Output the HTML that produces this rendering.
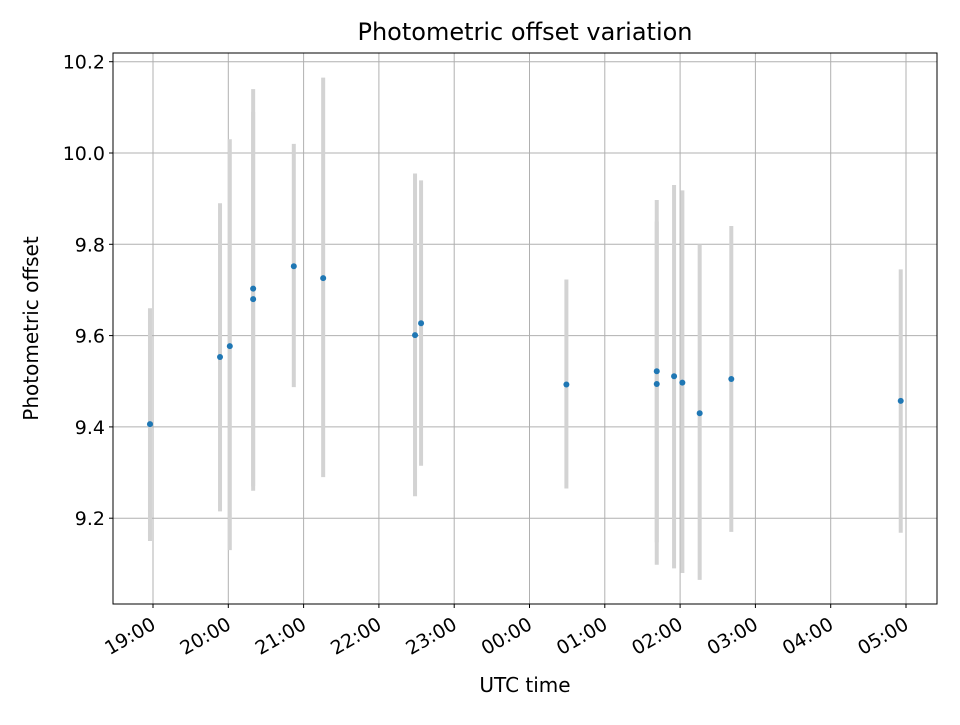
<!DOCTYPE html>
<html><head><meta charset="utf-8"><style>
body{margin:0;background:#fff;font-family:"Liberation Sans","DejaVu Sans",sans-serif}
svg text{font-family:"DejaVu Sans","Liberation Sans",sans-serif}
</style></head><body>
<svg id="chart" width="960" height="720" xmlns="http://www.w3.org/2000/svg"></svg>
<script>
// hours after 19:00 UTC
const times = [-0.04,0.89,1.02,1.33,1.33,1.87,2.26,3.48,3.56,5.49,6.69,6.69,6.92,7.03,7.26,7.68,9.93];
const offsets = [9.406,9.553,9.577,9.703,9.680,9.752,9.726,9.601,9.627,9.493,9.522,9.494,9.511,9.497,9.430,9.505,9.457];
const upper = [9.66,9.89,10.03,10.14,10.09,10.02,10.165,9.955,9.94,9.723,9.897,9.85,9.93,9.918,9.80,9.84,9.745];
const lower = [9.15,9.215,9.13,9.26,9.27,9.487,9.29,9.248,9.315,9.265,9.147,9.098,9.09,9.08,9.065,9.17,9.168];
const yTicks = [9.2,9.4,9.6,9.8,10.0,10.2];
const xTickLabels = ["19:00","20:00","21:00","22:00","23:00","00:00","01:00","02:00","03:00","04:00","05:00"];

const NS="http://www.w3.org/2000/svg", svg=document.getElementById('chart');
const L=113,R=937,T=53,B=604;
const X=h=>153+h*75.3;
const Y=v=>153+(10.0-v)*456.5;
function mk(tag,attrs,parent){const e=document.createElementNS(NS,tag);for(const k in attrs)e.setAttribute(k,attrs[k]);(parent||svg).appendChild(e);return e;}

const grid=mk('g',{});


yTicks.forEach(v=>{
  const l=mk('line',{x1:L,x2:R,y1:Y(v),y2:Y(v),stroke:'#b0b0b0','stroke-width':1},grid);
  
  
  const t=mk('line',{x1:L-4,x2:L,y1:Y(v),y2:Y(v),stroke:'#000'});
  
  
  const tx=mk('text',{x:L-8,y:Y(v)+7,'text-anchor':'end','font-size':19});
  tx.textContent=v.toFixed(1);
  
  
});
xTickLabels.forEach((lab,i)=>{
  const x=X(i);
  const l=mk('line',{x1:x,x2:x,y1:T,y2:B,stroke:'#b0b0b0','stroke-width':1},grid);
  
  
  const t=mk('line',{x1:x,x2:x,y1:B,y2:B+4,stroke:'#000'});
  
  
  const px=x+4, py=B+24;
  const tx=mk('text',{x:px,y:py,'text-anchor':'end','font-size':19,transform:`rotate(-30 ${px} ${py})`});
  tx.textContent=lab;
  
  
});
times.forEach((h,i)=>{
  const b=mk('line',{x1:X(h),x2:X(h),y1:Y(upper[i]),y2:Y(lower[i]),stroke:'#d3d3d3','stroke-width':4});
  
  
});
times.forEach((h,i)=>{
  const c=mk('circle',{cx:X(h),cy:Y(offsets[i]),r:3,fill:'#1f77b4'});
  
  
});
const fr=mk('rect',{x:L,y:T,width:R-L,height:B-T,fill:'none',stroke:'#000','stroke-width':1});


const ti=mk('text',{x:(L+R)/2,y:40,'text-anchor':'middle','font-size':24});
ti.textContent='Photometric offset variation';


const xl=mk('text',{x:(L+R)/2,y:692,'text-anchor':'middle','font-size':20});
xl.textContent='UTC time';


const yl=mk('text',{x:38,y:(T+B)/2,'text-anchor':'middle','font-size':20,transform:`rotate(-90 38 ${(T+B)/2})`});
yl.textContent='Photometric offset';


</script>
</body></html>
